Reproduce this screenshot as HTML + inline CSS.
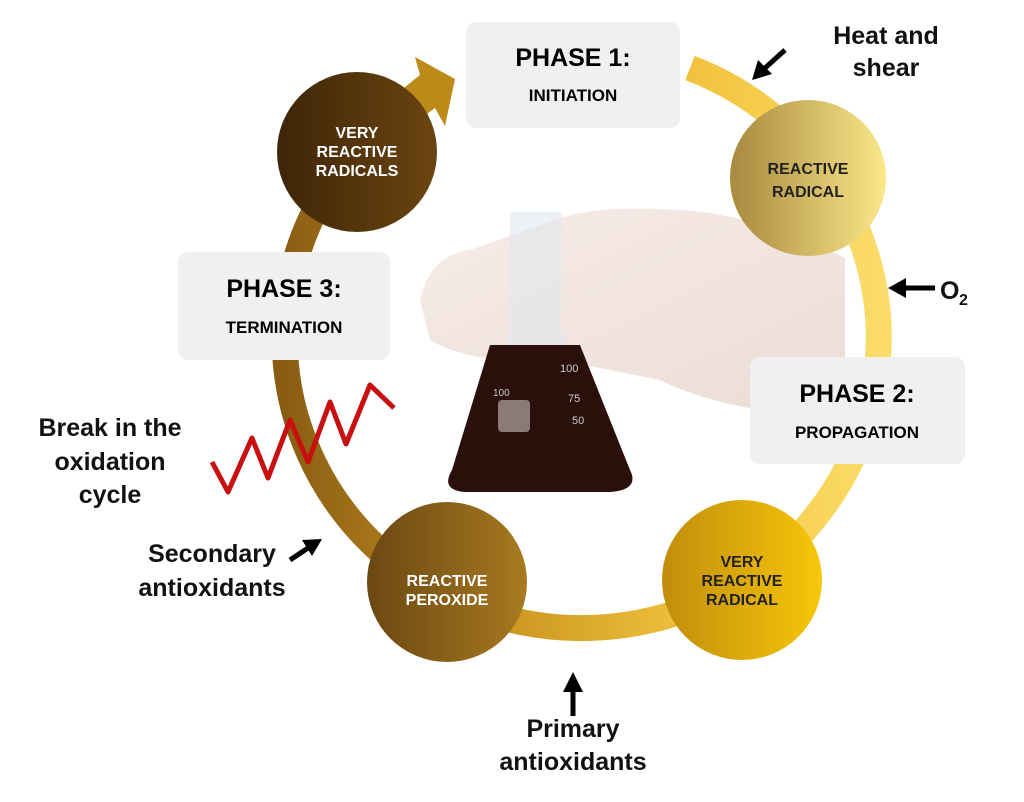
<!DOCTYPE html>
<html><head><meta charset="utf-8"><style>
body{margin:0;background:#fff;}
svg{display:block;font-family:"Liberation Sans",Arial,sans-serif;}
</style></head><body>
<svg width="1024" height="802" viewBox="0 0 1024 802" xmlns="http://www.w3.org/2000/svg">
<defs>
<linearGradient id="ring" x1="0" y1="0" x2="1" y2="0">
<stop offset="0" stop-color="#8a5d14"/><stop offset="0.35" stop-color="#c9941f"/><stop offset="0.7" stop-color="#f2c43e"/><stop offset="1" stop-color="#fbdc6a"/>
</linearGradient>
<linearGradient id="c1" x1="0" y1="0" x2="1" y2="0"><stop offset="0" stop-color="#3e2508"/><stop offset="1" stop-color="#6b4510"/></linearGradient>
<linearGradient id="c2" x1="0" y1="0" x2="1" y2="0"><stop offset="0" stop-color="#a8893f"/><stop offset="1" stop-color="#fbe88a"/></linearGradient>
<linearGradient id="c3" x1="0" y1="0" x2="1" y2="0"><stop offset="0" stop-color="#c08d0c"/><stop offset="1" stop-color="#f8c60a"/></linearGradient>
<linearGradient id="c4" x1="0" y1="0" x2="1" y2="0"><stop offset="0" stop-color="#6b4712"/><stop offset="1" stop-color="#a87a20"/></linearGradient>
<linearGradient id="glove" x1="0" y1="0" x2="1" y2="1"><stop offset="0" stop-color="#f7ece8"/><stop offset="1" stop-color="#ecdcd6"/></linearGradient>
</defs>
<!-- ring -->
<path d="M 690 68 A 297 290 0 1 1 405 105" fill="none" stroke="url(#ring)" stroke-width="26"/>
<polygon points="395,95 420,75 415,57 455,79 445,126 435,108 412,125" fill="#bd8b1a"/>
<!-- glove -->
<path d="M420 300 Q430 255 470 250 L560 218 Q600 205 680 210 Q760 215 845 258 L845 410 L760 410 Q700 400 660 380 L560 360 Q470 365 430 340 Z" fill="url(#glove)"/>
<!-- flask -->
<path d="M510 212 L562 212 L560 330 L630 470 Q640 490 610 492 L465 492 Q440 490 452 470 L510 330 Z" fill="#dfe8ef" opacity="0.6"/>
<path d="M490 345 L580 345 L630 470 Q640 490 610 492 L465 492 Q440 490 452 470 Z" fill="#2a0f0a"/>
<rect x="498" y="400" width="32" height="32" rx="4" fill="#8a7a78"/>
<text x="560" y="372" font-size="11" fill="#ccc">100</text>
<text x="568" y="402" font-size="11" fill="#ccc">75</text>
<text x="572" y="424" font-size="11" fill="#ccc">50</text>
<text x="493" y="396" font-size="10" fill="#ccc">100</text>
<!-- boxes -->
<rect x="466" y="22" width="214" height="106" rx="10" fill="#f0f0f0"/>
<text x="573" y="66" font-size="25" font-weight="bold" text-anchor="middle">PHASE 1:</text>
<text x="573" y="101" font-size="17" font-weight="bold" text-anchor="middle">INITIATION</text>
<rect x="178" y="252" width="212" height="108" rx="10" fill="#f0f0f0"/>
<text x="284" y="297" font-size="25" font-weight="bold" text-anchor="middle">PHASE 3:</text>
<text x="284" y="333" font-size="17" font-weight="bold" text-anchor="middle">TERMINATION</text>
<rect x="750" y="357" width="215" height="107" rx="10" fill="#f0f0f0"/>
<text x="857" y="402" font-size="25" font-weight="bold" text-anchor="middle">PHASE 2:</text>
<text x="857" y="438" font-size="17" font-weight="bold" text-anchor="middle">PROPAGATION</text>
<!-- circles -->
<circle cx="357" cy="152" r="80" fill="url(#c1)"/>
<g fill="#fff" font-size="16" font-weight="bold" text-anchor="middle">
<text x="357" y="138">VERY</text><text x="357" y="157">REACTIVE</text><text x="357" y="176">RADICALS</text></g>
<circle cx="808" cy="178" r="78" fill="url(#c2)"/>
<g fill="#222" font-size="16" font-weight="bold" text-anchor="middle">
<text x="808" y="174">REACTIVE</text><text x="808" y="197">RADICAL</text></g>
<circle cx="742" cy="580" r="80" fill="url(#c3)"/>
<g fill="#222" font-size="16" font-weight="bold" text-anchor="middle">
<text x="742" y="567">VERY</text><text x="742" y="586">REACTIVE</text><text x="742" y="605">RADICAL</text></g>
<circle cx="447" cy="582" r="80" fill="url(#c4)"/>
<g fill="#fff" font-size="16" font-weight="bold" text-anchor="middle">
<text x="447" y="586">REACTIVE</text><text x="447" y="605">PEROXIDE</text></g>
<!-- red wave -->
<path d="M212 462 L228 492 L252 438 L268 478 L290 420 L308 462 L330 402 L346 444 L370 385 L394 408" fill="none" stroke="#c81010" stroke-width="5" stroke-linejoin="round"/>
<!-- labels -->
<g font-size="25" font-weight="bold" fill="#111">
<text x="886" y="44" text-anchor="middle">Heat and</text><text x="886" y="76" text-anchor="middle">shear</text>
<text x="940" y="299">O</text><text x="959" y="305" font-size="16">2</text>
<text x="110" y="436" text-anchor="middle">Break in the</text><text x="110" y="470" text-anchor="middle">oxidation</text><text x="110" y="503" text-anchor="middle">cycle</text>
<text x="212" y="562" text-anchor="middle">Secondary</text><text x="212" y="596" text-anchor="middle">antioxidants</text>
<text x="573" y="737" text-anchor="middle">Primary</text><text x="573" y="770" text-anchor="middle">antioxidants</text>
</g>
<!-- small arrows -->
<g stroke="#000" stroke-width="5" fill="#000">
<line x1="785" y1="50" x2="765" y2="68"/><polygon points="752,80 758,60 772,74" stroke="none"/>
<line x1="935" y1="288" x2="905" y2="288"/><polygon points="888,288 906,278 906,298" stroke="none"/>
<line x1="290" y1="560" x2="308" y2="548"/><polygon points="322,539 302,540 312,556" stroke="none"/>
<line x1="573" y1="716" x2="573" y2="690"/><polygon points="573,672 563,692 583,692" stroke="none"/>
</g>
</svg>
</body></html>
